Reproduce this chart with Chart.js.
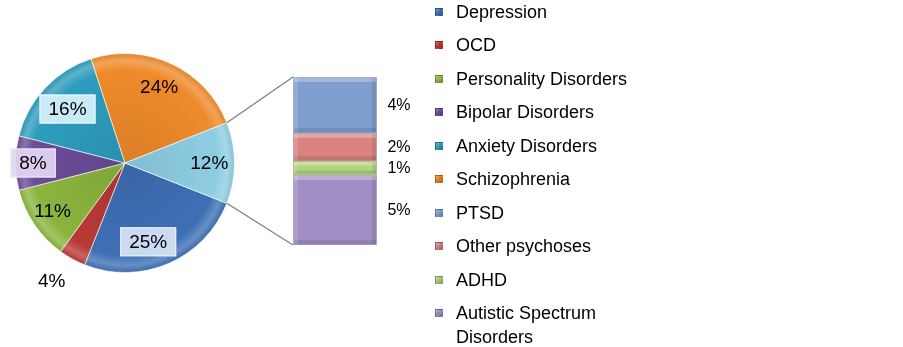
<!DOCTYPE html>
<html>
<head>
<meta charset="utf-8">
<script src="https://cdn.jsdelivr.net/npm/chart.js@4.4.1/dist/chart.umd.min.js"></script>
<style>
  html, body { margin: 0; padding: 0; background: #ffffff; }
  #wrap { position: relative; width: 903px; height: 347px; overflow: hidden; font-family: "Liberation Sans", Arial, sans-serif; }
  #wrap canvas { position: absolute; left: 0; top: 0; }
  #legend { position: absolute; left: 0; top: 0; width: 903px; height: 347px; }
  .item { position: absolute; left: 456px; width: 180px; font-size: 18px; line-height: 24px; color: #000; }
  .mark { position: absolute; left: -21px; top: 8px; width: 8px; height: 8px; box-sizing: border-box; }
</style>
</head>
<body>
<div id="wrap">
  <canvas id="pie" width="903" height="347"></canvas>
  <canvas id="bar" width="903" height="347"></canvas>
  <div id="legend"></div>
</div>
<script>
// ---- data ----
const legendLabels = ['Depression', 'OCD', 'Personality Disorders', 'Bipolar Disorders', 'Anxiety Disorders', 'Schizophrenia', 'PTSD', 'Other psychoses', 'ADHD', 'Autistic Spectrum Disorders'];
const pieLabels = ['Depression', 'OCD', 'Personality Disorders', 'Bipolar Disorders', 'Anxiety Disorders', 'Schizophrenia', 'Other'];
const pieValues = [25, 4, 11, 8, 16, 24, 12];
const barLabels = ['PTSD', 'Other psychoses', 'ADHD', 'Autistic Spectrum Disorders'];
const barValues = [4, 2, 1, 5];

// ---- styles ----
const pieColors = ['#3E6FB5', '#B83A35', '#8AB43E', '#6A4C97', '#2E9CBD', '#EE8A2A', '#8DCDE2'];
const barColors = ['#7E9ECF', '#D9837F', '#B2D37F', '#A18EC4'];
const legendColors = ['#3C6EB4', '#B83434', '#8DB43E', '#6B4C9A', '#2E9BBA', '#E87F22', '#7B9CCC', '#CD7F7D', '#A9C67E', '#9D8BC0'];
const labelRadius = [0.75, 1.27, 0.79, 0.84, 0.72, 0.76, 0.77];
const labelShift = [7, 3, 1, 0, 0, -1, 0];
const labelBoxes = [{fill: 'rgba(214,226,246,0.93)', stroke: '#eef3fb'}, null, null,
  {fill: 'rgba(226,214,242,0.93)', stroke: '#f2ecfa'}, {fill: 'rgba(214,240,250,0.93)', stroke: '#eefaff'}, null, null];

const total = pieValues.reduce((a, b) => a + b, 0);
const FONT = '"Liberation Sans", Arial, sans-serif';

function mix(hex, target, t) {
  const n = parseInt(hex.slice(1), 16);
  const r = (n >> 16) & 255, g = (n >> 8) & 255, b = n & 255;
  const m = v => Math.round(v + (target - v) * t);
  return 'rgb(' + m(r) + ',' + m(g) + ',' + m(b) + ')';
}

function pieFill(context) {
  const chart = context.chart;
  const area = chart.chartArea;
  const base = pieColors[context.dataIndex];
  if (!area) return base;
  const cx = (area.left + area.right) / 2, cy = (area.top + area.bottom) / 2;
  const R = Math.min(area.right - area.left, area.bottom - area.top) / 2;
  const g = chart.ctx.createRadialGradient(cx, cy, 0, cx, cy, R);
  g.addColorStop(0, mix(base, 0, 0.08));
  g.addColorStop(0.84, base);
  g.addColorStop(0.93, mix(base, 255, 0.22));
  g.addColorStop(1, mix(base, 0, 0.06));
  return g;
}

const pieLabelPlugin = {
  id: 'pieLabels',
  afterDatasetsDraw(chart) {
    const ctx = chart.ctx;
    const arcs = chart.getDatasetMeta(0).data;
    ctx.save();
    ctx.font = '19px ' + FONT;
    ctx.textAlign = 'center';
    ctx.textBaseline = 'middle';
    arcs.forEach((arc, i) => {
      const mid = (arc.startAngle + arc.endAngle) / 2 + labelShift[i] * Math.PI / 180;
      const r = arc.outerRadius * labelRadius[i];
      const x = arc.x + Math.cos(mid) * r;
      const y = arc.y + Math.sin(mid) * r;
      const txt = Math.round(pieValues[i] / total * 100) + '%';
      const box = labelBoxes[i];
      if (box) {
        const w = ctx.measureText(txt).width + 18;
        const h = 29;
        ctx.fillStyle = box.fill;
        ctx.fillRect(x - w / 2, y - h / 2, w, h);
        ctx.strokeStyle = box.stroke;
        ctx.lineWidth = 1;
        ctx.strokeRect(x - w / 2 + 0.5, y - h / 2 + 0.5, w - 1, h - 1);
      }
      ctx.fillStyle = '#000';
      ctx.fillText(txt, x, y + 1);
    });
    ctx.restore();
  }
};

const pieChart = new Chart(document.getElementById('pie'), {
  type: 'pie',
  data: {
    labels: pieLabels,
    datasets: [{
      data: pieValues,
      backgroundColor: pieFill,
      borderColor: 'rgba(255,255,255,0.6)',
      borderWidth: 1
    }]
  },
  options: {
    responsive: false,
    animation: false,
    rotation: 90 + 180 * pieValues[pieValues.length - 1] / total,
    layout: { padding: { left: 15, right: 668, top: 53, bottom: 74 } },
    plugins: { legend: { display: false }, tooltip: { enabled: false } }
  },
  plugins: [pieLabelPlugin]
});

const barOverlay = {
  id: 'barOverlay',
  afterDatasetsDraw(chart) {
    const ctx = chart.ctx;
    const n = chart.data.datasets.length;
    const topBar = chart.getDatasetMeta(n - 1).data[0];
    const bottomBar = chart.getDatasetMeta(0).data[0];
    const left = topBar.x - topBar.width / 2;
    ctx.save();
    // bevel highlights on bar segments
    chart.data.datasets.forEach((ds, di) => {
      const el = chart.getDatasetMeta(di).data[0];
      const x0 = el.x - el.width / 2, x1 = el.x + el.width / 2;
      const y0 = el.y, y1 = el.base;
      const b = Math.min(4, (y1 - y0) / 4);
      ctx.fillStyle = 'rgba(255,255,255,0.28)';
      ctx.fillRect(x0 + 1, y0 + 1, x1 - x0 - 2, b);
      ctx.fillStyle = 'rgba(0,0,0,0.10)';
      ctx.fillRect(x0 + 1, y1 - 1 - b, x1 - x0 - 2, b);
      ctx.fillStyle = 'rgba(255,255,255,0.15)';
      ctx.fillRect(x0 + 1, y0 + 1, b, y1 - y0 - 2);
      ctx.fillStyle = 'rgba(0,0,0,0.08)';
      ctx.fillRect(x1 - 1 - b, y0 + 1, b, y1 - y0 - 2);
    });
    // connector lines
    const arc = pieChart.getDatasetMeta(0).data[pieValues.length - 1];
    const r = arc.outerRadius;
    const p1 = {x: arc.x + Math.cos(arc.startAngle) * r, y: arc.y + Math.sin(arc.startAngle) * r};
    const p2 = {x: arc.x + Math.cos(arc.endAngle) * r, y: arc.y + Math.sin(arc.endAngle) * r};
    ctx.strokeStyle = '#7f7f7f';
    ctx.lineWidth = 1.3;
    ctx.beginPath();
    ctx.moveTo(p1.x, p1.y); ctx.lineTo(left, topBar.y);
    ctx.moveTo(p2.x, p2.y); ctx.lineTo(left, bottomBar.base);
    ctx.stroke();
    // value labels
    ctx.font = '16px ' + FONT;
    ctx.fillStyle = '#000';
    ctx.textAlign = 'center';
    ctx.textBaseline = 'middle';
    chart.data.datasets.forEach((ds, di) => {
      const el = chart.getDatasetMeta(di).data[0];
      const y = (el.y + el.base) / 2;
      ctx.fillText(ds.data[0] + '%', el.x + el.width / 2 + 22, y + 1);
    });
    ctx.restore();
  }
};

const stackOrder = barLabels.map((l, i) => i).reverse();
new Chart(document.getElementById('bar'), {
  type: 'bar',
  data: {
    labels: ['Other'],
    datasets: stackOrder.map(i => ({
      label: barLabels[i],
      data: [barValues[i]],
      backgroundColor: barColors[i],
      borderColor: 'rgba(90,90,90,0.45)',
      borderWidth: 1,
      barPercentage: 1,
      categoryPercentage: 1
    }))
  },
  options: {
    responsive: false,
    animation: false,
    layout: { padding: { left: 293, right: 526, top: 77, bottom: 102 } },
    scales: {
      x: { stacked: true, display: false },
      y: { stacked: true, display: false, min: 0, max: barValues.reduce((a, b) => a + b, 0) }
    },
    plugins: { legend: { display: false }, tooltip: { enabled: false } }
  },
  plugins: [barOverlay]
});

// ---- legend ----
const legend = document.getElementById('legend');
legendLabels.forEach((lab, i) => {
  const d = document.createElement('div');
  d.className = 'item';
  d.style.top = (33.45 * i) + 'px';
  const m = document.createElement('span');
  m.className = 'mark';
  m.style.background = 'linear-gradient(135deg, ' + mix(legendColors[i], 255, 0.35) + ', ' + legendColors[i] + ' 45%, ' + mix(legendColors[i], 0, 0.2) + ')';
  m.style.border = '1px solid rgba(0,0,0,0.2)';
  d.appendChild(m);
  d.appendChild(document.createTextNode(lab));
  legend.appendChild(d);
});
</script>
</body>
</html>
